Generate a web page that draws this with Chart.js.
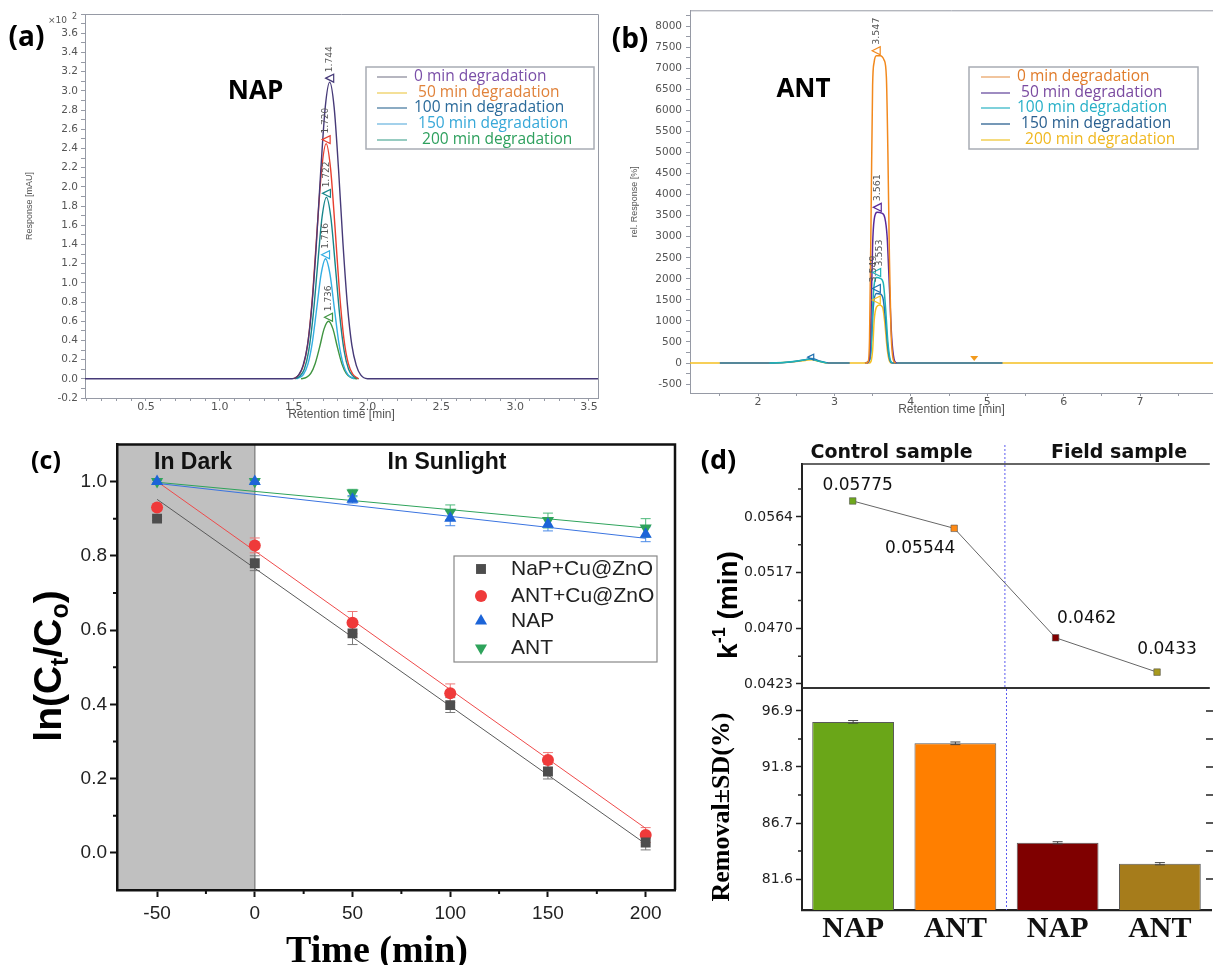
<!DOCTYPE html>
<html><head><meta charset="utf-8">
<script src="https://cdn.jsdelivr.net/npm/chart.js@4.4.1/dist/chart.umd.min.js"></script>
<style>
html,body{margin:0;padding:0;background:#fff}
#wrap{position:relative;width:1213px;height:965px;overflow:hidden;background:#fff}
canvas{position:absolute}
</style></head><body><div id="wrap">
<canvas id="ca" width="605" height="430" style="left:0px;top:0px"></canvas>
<canvas id="cb" width="608" height="430" style="left:605px;top:0px"></canvas>
<canvas id="cc" width="690" height="535" style="left:0px;top:430px"></canvas>
<canvas id="cd1" width="523" height="270" style="left:690px;top:430px"></canvas>
<canvas id="cd2" width="523" height="297" style="left:690px;top:668px"></canvas>
</div>
<script>
// ===================== DATA =====================
// (a) NAP chromatograms: [retention time (min), response (x10^2 mAU)]
const nap0 = [[0.087,0],[1.49,0],[1.534,0.04],[1.564,0.14],[1.594,0.35],[1.624,0.77],[1.654,1.41],[1.684,2.18],[1.714,2.83],[1.744,3.09],[1.774,2.83],[1.804,2.18],[1.834,1.41],[1.864,0.77],[1.894,0.35],[1.924,0.14],[1.954,0.04],[2.00,0],[3.561,0]];
const nap50 = [[1.50,0],[1.54,0.05],[1.57,0.16],[1.60,0.42],[1.63,0.91],[1.66,1.58],[1.69,2.19],[1.72,2.45],[1.75,2.19],[1.78,1.58],[1.81,0.91],[1.84,0.42],[1.87,0.16],[1.90,0.05],[1.94,0]];
const nap100 = [[1.51,0],[1.542,0.03],[1.572,0.10],[1.602,0.29],[1.632,0.66],[1.662,1.18],[1.692,1.68],[1.722,1.89],[1.752,1.68],[1.782,1.18],[1.812,0.66],[1.842,0.29],[1.872,0.10],[1.902,0.03],[1.94,0]];
const nap150 = [[1.52,0],[1.566,0.045],[1.596,0.15],[1.626,0.375],[1.656,0.73],[1.686,1.09],[1.716,1.25],[1.746,1.09],[1.776,0.73],[1.806,0.375],[1.836,0.15],[1.866,0.045],[1.91,0]];
const nap200 = [[1.55,0],[1.586,0.014],[1.616,0.056],[1.646,0.16],[1.676,0.33],[1.706,0.52],[1.736,0.60],[1.766,0.52],[1.796,0.33],[1.826,0.16],[1.856,0.056],[1.886,0.014],[1.93,0]];
const napPeakRT = [1.744, 1.720, 1.722, 1.716, 1.736];
const napPeakH  = [3.09, 2.45, 1.89, 1.25, 0.60];
const napLegend = ['0 min degradation', ' 50 min degradation', '100 min degradation', ' 150 min degradation', '  200 min degradation'];
const aXLabels = [0.5, 1.0, 1.5, 2.0, 2.5, 3.0, 3.5];
const aYLabels = [-0.2, 0.0, 0.2, 0.4, 0.6, 0.8, 1.0, 1.2, 1.4, 1.6, 1.8, 2.0, 2.2, 2.4, 2.6, 2.8, 3.0, 3.2, 3.4, 3.6];

// (b) ANT chromatograms: [retention time (min), rel. response (%)]
const ant0 = [[3.40,0],[3.44,30],[3.46,600],[3.48,3500],[3.50,6600],[3.52,7150],[3.55,7300],[3.60,7300],[3.65,7200],[3.68,6800],[3.70,5000],[3.72,2500],[3.74,800],[3.77,80],[3.80,0]];
const ant50 = [[3.42,0],[3.46,100],[3.48,1200],[3.50,2800],[3.52,3400],[3.56,3580],[3.62,3560],[3.66,3450],[3.69,3000],[3.72,1800],[3.75,600],[3.78,100],[3.81,0]];
const ant100 = [[2.15,0],[2.40,25],[2.60,70],[2.68,95],[2.78,50],[2.90,0],[3.2,null],[3.44,0],[3.48,300],[3.50,1300],[3.52,1850],[3.553,2030],[3.60,2010],[3.64,1900],[3.67,1300],[3.70,500],[3.73,80],[3.76,0]];
const ant150 = [[1.50,0],[2.20,0],[2.45,30],[2.62,80],[2.70,110],[2.80,50],[2.92,0],[3.20,0],[3.30,null],[3.40,0],[3.46,80],[3.49,700],[3.51,1350],[3.549,1650],[3.60,1640],[3.64,1500],[3.67,1000],[3.70,350],[3.73,50],[3.76,0],[5.20,0]];
const ant200 = [[1.11,0],[2.15,0],[2.40,20],[2.62,60],[2.70,80],[2.80,40],[2.90,0],[3.46,0],[3.50,300],[3.52,1000],[3.55,1330],[3.59,1380],[3.63,1330],[3.66,950],[3.69,350],[3.72,50],[3.75,0],[7.955,0]];
const antPeakRT = [3.547, 3.561, 3.553, 3.549, 3.548];
const antPeakH  = [7300, 3580, 2030, 1650, 1380];
const antPeakText = ['3.547', '3.561', '3.553', '3.549', ''];
const antLegend = ['0 min degradation', ' 50 min degradation', '100 min degradation', ' 150 min degradation', '  200 min degradation'];
const bXLabels = [2, 3, 4, 5, 6, 7];
const bYLabels = [-500, 0, 500, 1000, 1500, 2000, 2500, 3000, 3500, 4000, 4500, 5000, 5500, 6000, 6500, 7000, 7500, 8000];

// (c) kinetics: ln(Ct/Co) vs time
const cTime = [-50, 0, 50, 100, 150, 200];
const napCu    = [0.90, 0.78, 0.591, 0.398, 0.219, 0.028];
const napCuErr = [0.005, 0.02, 0.03, 0.02, 0.02, 0.02];
const antCu    = [0.93, 0.828, 0.62, 0.43, 0.25, 0.048];
const antCuErr = [0.005, 0.02, 0.03, 0.025, 0.02, 0.02];
const napCtl    = [1.0, 1.0, 0.952, 0.901, 0.885, 0.858];
const napCtlErr = [0.004, 0.004, 0.01, 0.02, 0.018, 0.02];
const antCtl    = [1.0, 1.0, 0.969, 0.917, 0.895, 0.875];
const antCtlErr = [0.004, 0.004, 0.01, 0.02, 0.02, 0.025];
const fitTime  = [-50, 200];
const fitNapCu = [0.952, 0.024];
const fitAntCu = [1.0, 0.066];
const fitNapCtl = [0.995, 0.847];
const fitAntCtl = [0.998, 0.875];
const cLegend = ['NaP+Cu@ZnO', 'ANT+Cu@ZnO', 'NAP', 'ANT'];
const cXLabels = [-50, 0, 50, 100, 150, 200];
const cYLabels = [0.0, 0.2, 0.4, 0.6, 0.8, 1.0];

// (d) rate constants and removal
const dCats = ['NAP', 'ANT', 'NAP', 'ANT'];
const dK = [0.05775, 0.05544, 0.0462, 0.0433];
const dKText = ['0.05775', '0.05544', '0.0462', '0.0433'];
const dRemoval = [95.9, 93.95, 84.9, 83.0];
const dRemovalErr = [0.12, 0.12, 0.1, 0.1];
const dKLabels = [0.0423, 0.0470, 0.0517, 0.0564];
const dRLabels = [81.6, 86.7, 91.8, 96.9];
const dGroups = ['Control sample', 'Field sample'];

// ===================== STYLE / HELPERS =====================
const napColors = ['#463a78', '#e8402f', '#17868a', '#33aee2', '#3f9440'];
const napLegLine = ['#8e8e9e', '#efd060', '#4c7ea2', '#72b9e0', '#5fb0a0'];
const napLegText = ['#7a4fa8', '#e0823a', '#2a6a9a', '#36a8d8', '#2ea05e'];
const antColors = ['#f2891d', '#5a2a9a', '#1fb3b8', '#2070b0', '#f5c022'];
const antLegLine = ['#e9a66a', '#6a4ea0', '#3ab8c8', '#2a6090', '#f0c838'];
const antLegText = ['#e07b2a', '#7a4aa0', '#28b0c8', '#2a6090', '#f0b820'];
const frameGray = '#969aa5';
const tickGray = '#555';

const toXY = arr => arr.map(p => ({x: p[0], y: p[1]}));
const has = (list, v) => list.some(m => Math.abs(m - v) < 1e-7);
function steps(a, b, s, dec) { const r = []; for (let i = 0; a + i * s <= b + 1e-9; i++) r.push(+(a + i * s).toFixed(dec)); return r; }
function T(ctx, s, x, y, font, color, align, base, rot) {
  ctx.save(); ctx.translate(x, y); if (rot) ctx.rotate(rot);
  ctx.font = font; ctx.fillStyle = color; ctx.textAlign = align || 'center'; ctx.textBaseline = base || 'middle';
  ctx.fillText(s, 0, 0); ctx.restore();
}
function leftTri(ctx, x, y, s, color) {
  ctx.save(); ctx.strokeStyle = color; ctx.lineWidth = 1.2; ctx.beginPath();
  ctx.moveTo(x - s / 2, y); ctx.lineTo(x + s / 2, y - s / 2); ctx.lineTo(x + s / 2, y + s / 2); ctx.closePath(); ctx.stroke(); ctx.restore();
}
function legendBox(ctx, bx, by, bw, bh, rows, lx0, lx1, tx, texts, lineCols, textCols, font) {
  ctx.save();
  ctx.fillStyle = '#fff'; ctx.fillRect(bx, by, bw, bh);
  ctx.strokeStyle = '#a8acb4'; ctx.lineWidth = 1.5; ctx.strokeRect(bx, by, bw, bh);
  texts.forEach((t, i) => {
    ctx.strokeStyle = lineCols[i]; ctx.lineWidth = 1.3; ctx.beginPath(); ctx.moveTo(lx0, rows[i]); ctx.lineTo(lx1, rows[i]); ctx.stroke();
    T(ctx, t, tx, rows[i], font, textCols[i], 'left', 'middle');
  });
  ctx.restore();
}
function marker(ctx, style, x, y, r, color) {
  ctx.save(); ctx.fillStyle = color; ctx.beginPath();
  if (style === 'rect') { const s = r * Math.SQRT1_2; ctx.rect(x - s, y - s, 2 * s, 2 * s); }
  else if (style === 'circle') { ctx.arc(x, y, r, 0, Math.PI * 2); }
  else if (style === 'up') { ctx.moveTo(x, y - r); ctx.lineTo(x + r * 0.866, y + r / 2); ctx.lineTo(x - r * 0.866, y + r / 2); ctx.closePath(); }
  else if (style === 'down') { ctx.moveTo(x, y + r); ctx.lineTo(x + r * 0.866, y - r / 2); ctx.lineTo(x - r * 0.866, y - r / 2); ctx.closePath(); }
  ctx.fill(); ctx.restore();
}
const noLegend = {legend: {display: false}, tooltip: {enabled: false}};

// ===================== (a) =====================
new Chart(document.getElementById('ca'), {
  type: 'line',
  data: {datasets: [nap0, nap50, nap100, nap150, nap200].map((c, i) => ({
    data: toXY(c), borderColor: napColors[i], borderWidth: 1.4, pointRadius: 0, cubicInterpolationMode: 'monotone', fill: false
  }))},
  options: {
    responsive: false, animation: false, events: [],
    layout: {padding: {left: 0, top: 14, right: 7, bottom: 8}},
    plugins: noLegend,
    scales: {
      x: {type: 'linear', min: 0.087, max: 3.561,
        afterBuildTicks: s => { s.ticks = steps(0.1, 3.5, 0.1, 1).map(v => ({value: v})); },
        afterFit: s => { s.height = 24; },
        ticks: {autoSkip: false, maxRotation: 0, padding: 0, color: tickGray, font: {family: 'DejaVu Sans', size: 11},
          callback: v => has(aXLabels, v) ? v.toFixed(1) : ''},
        grid: {drawOnChartArea: false, tickLength: 3, color: frameGray},
        border: {color: frameGray, width: 1},
        title: {display: true, text: 'Retention time [min]', color: tickGray, font: {family: 'Liberation Sans', size: 12}, padding: {top: 0, bottom: 0}}
      },
      y: {type: 'linear', min: -0.2, max: 3.8,
        afterBuildTicks: s => { s.ticks = steps(-0.2, 3.8, 0.1, 1).map(v => ({value: v})); },
        afterFit: s => { s.width = 85; },
        ticks: {autoSkip: false, padding: 3, color: tickGray, font: {family: 'DejaVu Sans', size: 10.5},
          callback: v => has(aYLabels, v) ? v.toFixed(1) : ''},
        grid: {drawOnChartArea: false, tickLength: 4, color: frameGray},
        border: {color: frameGray, width: 1},
        title: {display: true, text: 'Response [mAU]', color: tickGray, font: {family: 'Liberation Sans', size: 9}, padding: {top: 24, bottom: 0}}
      }
    }
  },
  plugins: [{id: 'pa', afterDraw(ch) {
    const {ctx, chartArea: a, scales: {x, y}} = ch;
    ctx.save(); ctx.strokeStyle = frameGray; ctx.lineWidth = 1; ctx.beginPath();
    ctx.moveTo(a.left, a.top + 0.5); ctx.lineTo(a.right + 0.5, a.top + 0.5); ctx.lineTo(a.right + 0.5, a.bottom); ctx.stroke(); ctx.restore();
    napPeakRT.forEach((rt, i) => {
      const px = x.getPixelForValue(rt), py = y.getPixelForValue(napPeakH[i]);
      leftTri(ctx, px, py - 4, 8, napColors[i]);
      T(ctx, rt.toFixed(3), px, py - 10, '9px "DejaVu Sans"', '#555', 'left', 'middle', -Math.PI / 2);
    });
    legendBox(ctx, 366, 67, 228, 82, [77, 93, 108, 124, 140], 377, 407, 414, napLegend, napLegLine, napLegText, '15.5px "Open Sans"');
    T(ctx, '(a)', 26.5, 38.5, 'bold 28px "Open Sans"', '#000');
    T(ctx, 'NAP', 255.5, 92, 'bold 26px "Open Sans"', '#000');
    T(ctx, '\u00d710', 48, 21, '9px "DejaVu Sans"', '#555', 'left');
    T(ctx, '2', 72, 17, '8px "DejaVu Sans"', '#555', 'left');
  }}]
});

// ===================== (b) =====================
new Chart(document.getElementById('cb'), {
  type: 'line',
  data: {datasets: [ant0, ant50, ant100, ant150, ant200].map((c, i) => ({
    data: toXY(c), borderColor: antColors[i], borderWidth: 1.5, pointRadius: 0, cubicInterpolationMode: 'monotone', fill: false, spanGaps: false
  }))},
  options: {
    responsive: false, animation: false, events: [],
    layout: {padding: {left: 0, top: 10, right: 0, bottom: 13}},
    plugins: noLegend,
    scales: {
      x: {type: 'linear', min: 1.11, max: 7.955,
        afterBuildTicks: s => { s.ticks = steps(1.5, 7.5, 0.5, 1).map(v => ({value: v})); },
        afterFit: s => { s.height = 24; },
        ticks: {autoSkip: false, maxRotation: 0, padding: 0, color: tickGray, font: {family: 'DejaVu Sans', size: 11},
          callback: v => has(bXLabels, v) ? String(v) : ''},
        grid: {drawOnChartArea: false, tickLength: 3, color: frameGray},
        border: {color: frameGray, width: 1},
        title: {display: true, text: 'Retention time [min]', color: tickGray, font: {family: 'Liberation Sans', size: 12}, padding: {top: 0, bottom: 0}}
      },
      y: {type: 'linear', min: -712, max: 8380,
        afterBuildTicks: s => { s.ticks = steps(-500, 8250, 250, 0).map(v => ({value: v})); },
        afterFit: s => { s.width = 85; },
        ticks: {autoSkip: false, padding: 4, color: tickGray, font: {family: 'DejaVu Sans', size: 10.5},
          callback: v => has(bYLabels, v) ? String(v) : ''},
        grid: {drawOnChartArea: false, tickLength: 4, color: frameGray},
        border: {color: frameGray, width: 1},
        title: {display: true, text: 'rel. Response [%]', color: tickGray, font: {family: 'Liberation Sans', size: 9}, padding: {top: 24, bottom: 0}}
      }
    }
  },
  plugins: [{id: 'pb', afterDraw(ch) {
    const {ctx, chartArea: a, scales: {x, y}} = ch;
    ctx.save(); ctx.strokeStyle = frameGray; ctx.lineWidth = 1; ctx.beginPath();
    ctx.moveTo(a.left, a.top + 0.5); ctx.lineTo(a.right, a.top + 0.5); ctx.stroke(); ctx.restore();
    const dx = [0, 0, 3, -3, 0];
    antPeakRT.forEach((rt, i) => {
      const px = x.getPixelForValue(rt), py = y.getPixelForValue(antPeakH[i]);
      leftTri(ctx, px, py - 5, 8, antColors[i]);
      if (antPeakText[i]) T(ctx, antPeakText[i], px + dx[i], py - 11, '9.5px "DejaVu Sans"', '#555', 'left', 'middle', -Math.PI / 2);
    });
    const mx = x.getPixelForValue(4.83), my = y.getPixelForValue(0);
    ctx.save(); ctx.fillStyle = '#f29a1d'; ctx.beginPath(); ctx.moveTo(mx - 4, my - 7); ctx.lineTo(mx + 4, my - 7); ctx.lineTo(mx, my - 2); ctx.closePath(); ctx.fill(); ctx.restore();
    leftTri(ctx, x.getPixelForValue(2.69), y.getPixelForValue(140), 6, '#2070b0');
    legendBox(ctx, 364, 67, 229, 82, [77, 93, 108, 124, 140], 376, 405, 412, antLegend, antLegLine, antLegText, '15.5px "Open Sans"');
    T(ctx, '(b)', 25, 40, 'bold 28px "Open Sans"', '#000');
    T(ctx, 'ANT', 198.5, 90, 'bold 26px "Open Sans"', '#000');
  }}]
});

// ===================== (c) =====================
const cStyles = [
  {vals: napCu, err: napCuErr, color: '#4d4d4d', ecol: '#7a7a7a', style: 'rect', r: 7},
  {vals: antCu, err: antCuErr, color: '#ef3a3a', ecol: '#ee7777', style: 'circle', r: 6},
  {vals: napCtl, err: napCtlErr, color: '#1c64d8', ecol: '#4a8ae8', style: 'up', r: 7},
  {vals: antCtl, err: antCtlErr, color: '#2ea35b', ecol: '#4cb87a', style: 'down', r: 7}
];
const cFits = [[fitNapCu, '#5a5a5a'], [fitAntCu, '#ef4a4a'], [fitNapCtl, '#3a74e0'], [fitAntCtl, '#2ea35b']];
const cPointStyle = {rect: ['rect', 0], circle: ['circle', 0], up: ['triangle', 0], down: ['triangle', 180]};
new Chart(document.getElementById('cc'), {
  type: 'scatter',
  data: {datasets: [
    ...cStyles.map(s => ({data: cTime.map((t, i) => ({x: t, y: s.vals[i]})), showLine: false,
      pointStyle: cPointStyle[s.style][0], rotation: cPointStyle[s.style][1], pointRadius: s.r,
      backgroundColor: s.color, borderColor: s.color, borderWidth: 0})),
    ...cFits.map(f => ({data: fitTime.map((t, i) => ({x: t, y: f[0][i]})), showLine: true, pointRadius: 0, borderColor: f[1], borderWidth: 1}))
  ]},
  options: {
    responsive: false, animation: false, events: [],
    layout: {padding: {left: 0, top: 13, right: 15, bottom: 0}},
    plugins: noLegend,
    scales: {
      x: {type: 'linear', min: -70.5, max: 215,
        afterBuildTicks: s => { s.ticks = cXLabels.map(v => ({value: v})); },
        afterFit: s => { s.height = 75; },
        ticks: {autoSkip: false, maxRotation: 0, padding: 5, color: '#222', font: {family: 'Liberation Sans', size: 19}, callback: v => String(v)},
        grid: {drawOnChartArea: false, tickLength: 7, color: '#111', tickWidth: 2},
        border: {color: '#111', width: 2.5}
      },
      y: {type: 'linear', min: -0.1, max: 1.1,
        afterBuildTicks: s => { s.ticks = cYLabels.map(v => ({value: v})); },
        afterFit: s => { s.width = 117; },
        ticks: {autoSkip: false, padding: 3, color: '#222', font: {family: 'Liberation Sans', size: 19}, callback: v => v.toFixed(1)},
        grid: {drawOnChartArea: false, tickLength: 7, color: '#111', tickWidth: 2},
        border: {color: '#111', width: 2.5}
      }
    }
  },
  plugins: [{id: 'pc',
    beforeDraw(ch) {
      const {ctx, chartArea: a, scales: {x}} = ch;
      const x0 = x.getPixelForValue(0);
      ctx.save(); ctx.fillStyle = '#c0c0c0'; ctx.fillRect(a.left, a.top, x0 - a.left, a.bottom - a.top);
      ctx.strokeStyle = '#8a8a8a'; ctx.lineWidth = 1.5; ctx.beginPath(); ctx.moveTo(x0, a.top); ctx.lineTo(x0, a.bottom); ctx.stroke(); ctx.restore();
    },
    beforeDatasetsDraw(ch) {
      const {ctx, scales: {x, y}} = ch;
      ctx.save(); ctx.lineWidth = 1;
      cStyles.forEach(s => {
        ctx.strokeStyle = s.ecol;
        cTime.forEach((t, i) => {
          const px = x.getPixelForValue(t), y1 = y.getPixelForValue(s.vals[i] + s.err[i]), y2 = y.getPixelForValue(s.vals[i] - s.err[i]);
          ctx.beginPath(); ctx.moveTo(px, y1); ctx.lineTo(px, y2);
          ctx.moveTo(px - 5, y1); ctx.lineTo(px + 5, y1); ctx.moveTo(px - 5, y2); ctx.lineTo(px + 5, y2); ctx.stroke();
        });
      });
      ctx.restore();
    },
    afterDraw(ch) {
      const {ctx, chartArea: a, scales: {x, y}} = ch;
      ctx.save(); ctx.strokeStyle = '#111'; ctx.lineWidth = 2.5; ctx.beginPath();
      ctx.moveTo(a.left, a.top); ctx.lineTo(a.right, a.top); ctx.lineTo(a.right, a.bottom); ctx.stroke();
      ctx.lineWidth = 2; ctx.beginPath();
      [-25, 25, 75, 125, 175].forEach(v => { const px = x.getPixelForValue(v); ctx.moveTo(px, a.bottom); ctx.lineTo(px, a.bottom + 4); });
      [0.1, 0.3, 0.5, 0.7, 0.9].forEach(v => { const py = y.getPixelForValue(v); ctx.moveTo(a.left, py); ctx.lineTo(a.left - 4, py); });
      ctx.stroke(); ctx.restore();
      T(ctx, 'In Dark', 193, 33, 'bold 23px "Liberation Sans"', '#111');
      T(ctx, 'In Sunlight', 447, 33, 'bold 23px "Liberation Sans"', '#111');
      T(ctx, '(c)', 46, 32, 'bold 25px "Open Sans"', '#000');
      ctx.save(); ctx.fillStyle = '#fff'; ctx.fillRect(454, 126, 203, 106); ctx.strokeStyle = '#888'; ctx.lineWidth = 1.2; ctx.strokeRect(454, 126, 203, 106); ctx.restore();
      const rows = [139, 166, 191, 218];
      cStyles.forEach((s, i) => { marker(ctx, s.style, 481, rows[i], s.r, s.color); T(ctx, cLegend[i], 511, rows[i], '21px "Liberation Sans"', '#222', 'left'); });
      ctx.save(); ctx.translate(47, 236); ctx.rotate(-Math.PI / 2); ctx.fillStyle = '#000'; ctx.textBaseline = 'alphabetic'; ctx.textAlign = 'left';
      const big = 'bold 39px "Liberation Sans"', small = 'bold 25px "Liberation Sans"';
      const parts = [['ln(C', big, 0], ['t', small, 7], ['/C', big, 0], ['o', small, 7], [')', big, 0]];
      let tot = 0; parts.forEach(p => { ctx.font = p[1]; p.push(ctx.measureText(p[0]).width); tot += p[3]; });
      let cx = -tot / 2; parts.forEach(p => { ctx.font = p[1]; ctx.fillText(p[0], cx, 14 + p[2]); cx += p[3]; });
      ctx.restore();
      T(ctx, 'Time (min)', 377, 532, 'bold 38px "Liberation Serif"', '#000', 'center', 'alphabetic');
    }
  }]
});

// ===================== (d) top: rate constants =====================
const dMarkerCols = ['#6ea81c', '#ff8a14', '#820000', '#a89a1c'];
const dBarCols = ['#6aa618', '#ff7f00', '#7f0000', '#a67c1b'];
function dashedSplit(ch, y0, y1) {
  const {ctx, scales: {x}} = ch;
  const px = (x.getPixelForValue(1) + x.getPixelForValue(2)) / 2;
  ctx.save(); ctx.strokeStyle = '#5b5bf0'; ctx.lineWidth = 1; ctx.setLineDash([2, 2]);
  ctx.beginPath(); ctx.moveTo(px, y0); ctx.lineTo(px, y1); ctx.stroke(); ctx.restore();
}
new Chart(document.getElementById('cd1'), {
  type: 'line',
  data: {labels: dCats, datasets: [{data: dK, borderColor: '#666', borderWidth: 1, pointStyle: 'rect', pointRadius: 4.6,
    pointBackgroundColor: dMarkerCols, pointBorderColor: '#555', pointBorderWidth: 0.6}]},
  options: {
    responsive: false, animation: false, events: [],
    layout: {padding: {left: 0, top: 34, right: 2, bottom: 12}},
    plugins: noLegend,
    scales: {
      x: {type: 'category', offset: true, display: false},
      y: {type: 'linear', min: 0.04196, max: 0.06087,
        afterBuildTicks: s => { s.ticks = dKLabels.map(v => ({value: v})); },
        afterFit: s => { s.width = 112; },
        ticks: {autoSkip: false, padding: 3, color: '#222', font: {family: 'DejaVu Sans', size: 14}, callback: v => v.toFixed(4)},
        grid: {drawOnChartArea: false, tickLength: 6, color: '#222', tickWidth: 1.5},
        border: {color: '#222', width: 2}
      }
    }
  },
  plugins: [{id: 'pd1',
    beforeDatasetsDraw(ch) { dashedSplit(ch, 15, ch.chartArea.bottom); },
    afterDraw(ch) {
      const {ctx, chartArea: a, scales: {x, y}} = ch;
      ctx.save(); ctx.strokeStyle = '#333'; ctx.lineWidth = 1.5; ctx.beginPath(); ctx.moveTo(a.left, a.top); ctx.lineTo(a.right + 2, a.top); ctx.stroke();
      ctx.lineWidth = 2.2; ctx.beginPath(); ctx.moveTo(a.left, a.bottom); ctx.lineTo(a.right + 2, a.bottom); ctx.stroke();
      ctx.lineWidth = 1.5; ctx.beginPath();
      [0.04465, 0.04935, 0.05405, 0.05875].forEach(v => { const py = y.getPixelForValue(v); ctx.moveTo(a.left, py); ctx.lineTo(a.left - 4, py); });
      ctx.stroke(); ctx.restore();
      const off = [[5, -15], [-34, 20], [31, -19], [10, -23]];
      dK.forEach((v, i) => T(ctx, dKText[i], x.getPixelForValue(i) + off[i][0], y.getPixelForValue(v) + off[i][1], '17px "DejaVu Sans"', '#111'));
      T(ctx, dGroups[0], 201.5, 23, 'bold 19px "DejaVu Sans"', '#111');
      T(ctx, dGroups[1], 429, 23, 'bold 19px "DejaVu Sans"', '#111');
      T(ctx, '(d)', 28.5, 31, 'bold 27px "Open Sans"', '#000');
      ctx.save(); ctx.translate(37, 175); ctx.rotate(-Math.PI / 2); ctx.fillStyle = '#000'; ctx.textBaseline = 'alphabetic'; ctx.textAlign = 'left';
      const big = 'bold 28px "Liberation Sans"', small = 'bold 18px "Liberation Sans"';
      const parts = [['k', big, 0], ['-1', small, -12], [' (min)', big, 0]];
      let tot = 0; parts.forEach(p => { ctx.font = p[1]; p.push(ctx.measureText(p[0]).width); tot += p[3]; });
      let cx = -tot / 2; parts.forEach(p => { ctx.font = p[1]; ctx.fillText(p[0], cx, 10 + p[2]); cx += p[3]; });
      ctx.restore();
    }
  }]
});

// ===================== (d) bottom: removal =====================
new Chart(document.getElementById('cd2'), {
  type: 'bar',
  data: {labels: dCats, datasets: [{data: dRemoval, backgroundColor: dBarCols, borderColor: '#5a5a5a', borderWidth: 1,
    barPercentage: 0.8, categoryPercentage: 1.0}]},
  options: {
    responsive: false, animation: false, events: [],
    layout: {padding: {left: 0, top: 21, right: 2, bottom: 0}},
    plugins: noLegend,
    scales: {
      x: {type: 'category',
        afterFit: s => { s.height = 55; },
        ticks: {padding: 1, color: '#111', font: {family: 'Liberation Serif', size: 30, weight: 'bold'}},
        grid: {display: false, drawTicks: false},
        border: {color: '#222', width: 2.2}
      },
      y: {type: 'linear', min: 78.79, max: 98.89,
        afterBuildTicks: s => { s.ticks = dRLabels.map(v => ({value: v})); },
        afterFit: s => { s.width = 112; },
        ticks: {autoSkip: false, padding: 3, color: '#222', font: {family: 'DejaVu Sans', size: 14}, callback: v => v.toFixed(1)},
        grid: {drawOnChartArea: false, tickLength: 6, color: '#222', tickWidth: 1.5},
        border: {color: '#222', width: 2}
      }
    }
  },
  plugins: [{id: 'pd2',
    afterDatasetsDraw(ch) {
      const {ctx, chartArea: a, scales: {x, y}} = ch;
      dashedSplit(ch, a.top, a.bottom);
      ctx.save(); ctx.strokeStyle = '#444'; ctx.lineWidth = 1;
      dRemoval.forEach((v, i) => {
        const px = x.getPixelForValue(i), y1 = y.getPixelForValue(v + dRemovalErr[i]), y2 = y.getPixelForValue(v - dRemovalErr[i]);
        ctx.beginPath(); ctx.moveTo(px - 5, y1); ctx.lineTo(px + 5, y1); ctx.moveTo(px - 5, y2); ctx.lineTo(px + 5, y2); ctx.moveTo(px, y1); ctx.lineTo(px, y2); ctx.stroke();
      });
      ctx.strokeStyle = '#222'; ctx.lineWidth = 1.5; ctx.beginPath();
      [84.15, 89.25, 94.35].forEach(v => { const py = y.getPixelForValue(v); ctx.moveTo(a.left, py); ctx.lineTo(a.left - 4, py); });
      [81.6, 84.15, 86.7, 89.25, 91.8, 94.35, 96.9].forEach(v => { const py = y.getPixelForValue(v); ctx.moveTo(a.right - 5, py); ctx.lineTo(a.right + 2, py); });
      ctx.stroke(); ctx.restore();
      T(ctx, 'Removal\u00b1SD(%)', 32, 139, 'bold 26px "Liberation Serif"', '#000', 'center', 'middle', -Math.PI / 2);
    }
  }]
});
</script></body></html>
